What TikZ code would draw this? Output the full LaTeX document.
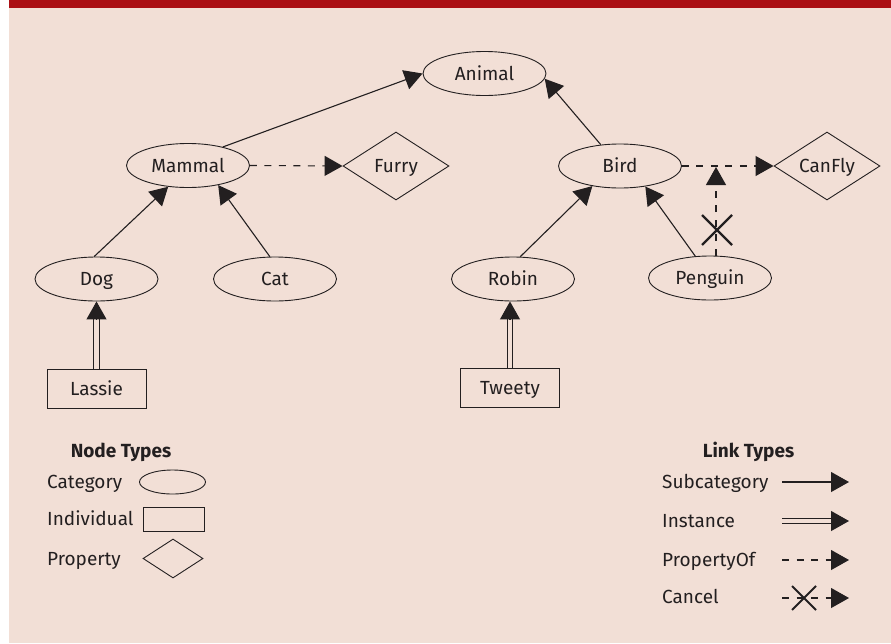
\documentclass[tikz,border=0pt]{standalone}
\usepackage{fontspec}
\setmainfont{Fira Sans}
\usetikzlibrary{shapes.geometric,arrows.meta,calc}
\definecolor{bandred}{RGB}{171,15,20}
\definecolor{bgpink}{RGB}{242,223,214}
\definecolor{ink}{RGB}{35,31,32}
\begin{document}
\begin{tikzpicture}[x=1pt,y=-1pt,
  font=\fontsize{19}{22}\selectfont,
  every node/.style={text=ink, text height=13.5pt, text depth=0pt},
  catnode/.style={ellipse, draw=ink, line width=0.9pt, minimum width=123pt, minimum height=44pt, inner sep=0pt},
  indnode/.style={rectangle, draw=ink, line width=1pt, minimum width=99pt, minimum height=39pt, inner sep=0pt},
  propnode/.style={diamond, aspect=1.56, draw=ink, line width=0.9pt, minimum width=106pt, minimum height=68pt, inner sep=0pt},
  lbl/.style={anchor=west, inner sep=0pt},
  ttl/.style={inner sep=0pt, font=\fontsize{19}{22}\selectfont\bfseries},
  sublink/.style={draw=ink, line width=1.1pt, -{Triangle[length=18pt,width=20pt]}},
  proplink/.style={sublink, dash pattern=on 7pt off 7.5pt},
  dbllink/.style={draw=ink, line width=1pt, double=bgpink, double distance=4.5pt},
  xmark/.pic={\draw[draw=ink, line width=2.3pt] (-15,-15) -- (15,15) (-15,15) -- (15,-15);},
  xmarksmall/.pic={\draw[draw=ink, line width=2pt] (-12,-12) -- (12,12) (-12,12) -- (12,-12);}
]
\useasboundingbox (0,0) rectangle (891,643);
\fill[white] (0,0) rectangle (891,643);
\fill[bgpink] (9,8) rectangle (891,643);
\fill[bandred] (9,0) rectangle (891,8);

% category nodes
\node[catnode] (animal) at (484.5,73.5) {Animal};
\node[catnode] (mammal) at (188,165.5) {Mammal};
\node[catnode] (bird) at (620,166) {Bird};
\node[catnode] (dog) at (96.5,279) {Dog};
\node[catnode] (cat) at (275,279) {Cat};
\node[catnode] (robin) at (513,279) {Robin};
\node[catnode] (penguin) at (710,278) {Penguin};
% properties
\node[propnode] (furry) at (396,166) {Furry};
\node[propnode] (canfly) at (827,166) {CanFly};
% individuals
\node[indnode] (lassie) at (96.5,388.5) {Lassie};
\node[indnode] (tweety) at (510,388) {Tweety};

% subcategory links
\draw[sublink] (mammal.28) -- (animal.180);
\draw[sublink] (bird.132) -- (animal.-5);
\draw[sublink] (dog.96) -- (mammal.227);
\draw[sublink] (cat.103) -- (mammal.-33);
\draw[sublink] (robin.72) -- (bird.216);
\draw[sublink] (penguin.124) -- (bird.-39);

% property links
\draw[proplink] (mammal.east) -- (furry.west);
\draw[proplink] (bird.east) -- (canfly.west);

% cancel link
\coordinate (cj) at (716,167);
\draw[proplink] (penguin.north -| cj) -- (cj);
\pic at (717,230) {xmark};

% instance links
\coordinate (dogbase) at (lassie.north |- dog.south);
\draw[dbllink] (lassie.north) -- ($(dogbase)+(0,16)$);
\draw[sublink] ($(dogbase)+(0,18)$) -- (dogbase);
\coordinate (robinbase) at (tweety.north |- robin.south);
\draw[dbllink] (tweety.north) -- ($(robinbase)+(0,16)$);
\draw[sublink] ($(robinbase)+(0,18)$) -- (robinbase);

% legend: node types
\node[ttl] (nodetypes) at (121,451) {Node Types};
\node[lbl] (lcat) at (47,482) {Category};
\node[lbl] (lind) at (47,519) {Individual};
\node[lbl] (lprop) at (47,559) {Property};
\node[ellipse, draw=ink, line width=0.9pt, minimum width=66pt, minimum height=24pt, inner sep=0pt] (lgcat) at (172.5,482) {};
\node[rectangle, draw=ink, line width=1pt, minimum width=61pt, minimum height=24pt, inner sep=0pt] (lgind) at (173.5,519) {};
\node[diamond, aspect=1.54, draw=ink, line width=0.9pt, minimum width=60pt, minimum height=39pt, inner sep=0pt] (lgprop) at (173,558.5) {};

% legend: link types
\node[ttl] (linktypes) at (748.5,451) {Link Types};
\node[lbl] (lsub) at (662,482) {Subcategory};
\node[lbl] (linst) at (662,521) {Instance};
\node[lbl] (lpof) at (662,560) {PropertyOf};
\node[lbl] (lcan) at (662,597) {Cancel};

\coordinate (s1) at (782,482); \coordinate (e1) at (849,482);
\coordinate (s2) at (782,521); \coordinate (e2) at (849,521);
\coordinate (s3) at (782,560); \coordinate (e3) at (849,560);
\coordinate (s4) at (782,598); \coordinate (e4) at (849,598);
\draw[sublink] (s1) -- (e1);
\draw[dbllink] (s2) -- ($(e2)+(-16,0)$);
\draw[sublink] ($(e2)+(-18,0)$) -- (e2);
\draw[proplink] (s3) -- (e3);
\draw[proplink] (s4) -- (e4);
\pic at (804,598) {xmarksmall};
\end{tikzpicture}
\end{document}
